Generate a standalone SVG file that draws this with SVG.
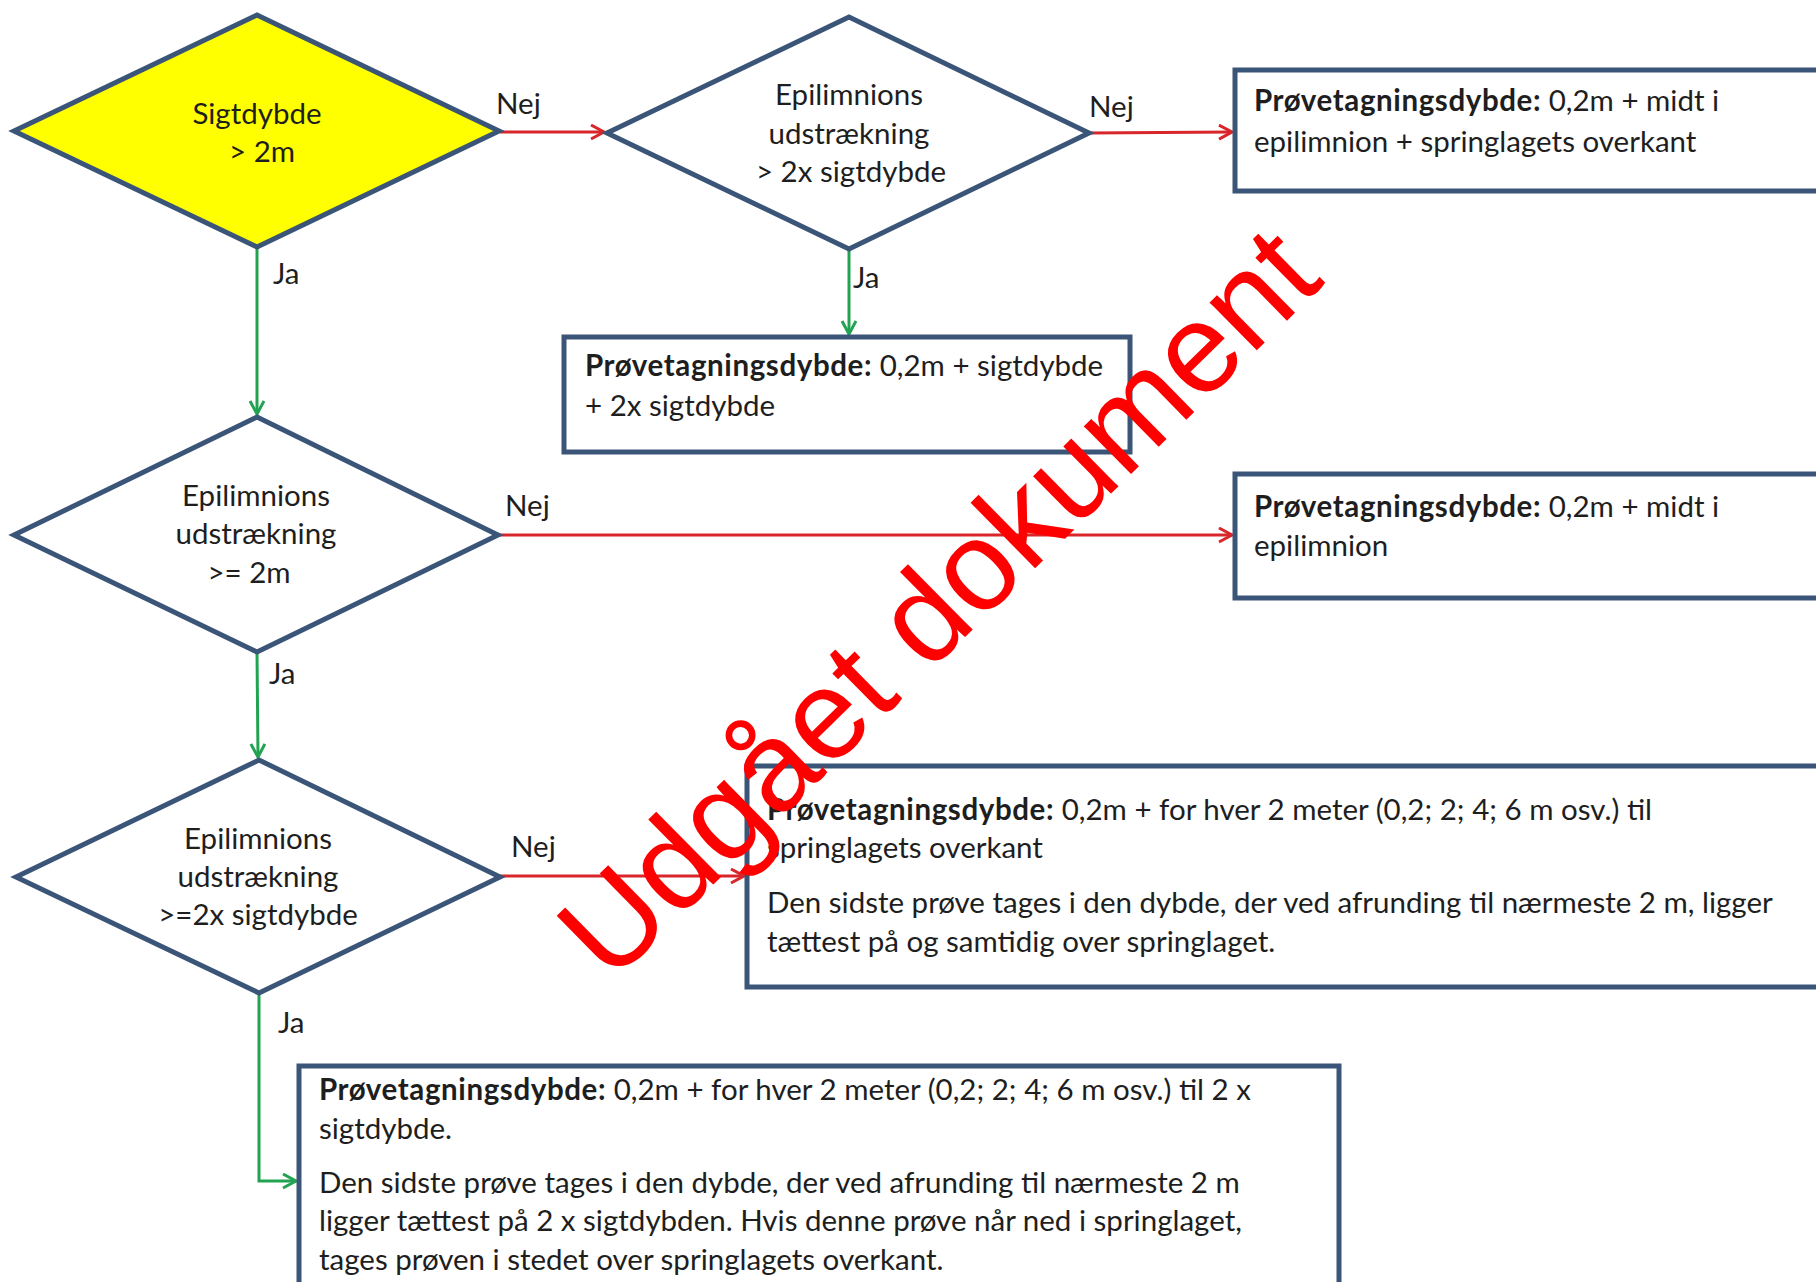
<svg xmlns="http://www.w3.org/2000/svg" width="1816" height="1282" viewBox="0 0 1816 1282">
<style>
.dia{stroke:#3A5578;stroke-width:5;stroke-linejoin:miter;fill:#FFFFFF}
.box{stroke:#3A5578;stroke-width:5;fill:#FFFFFF}
.t{font-family:Lato,"Liberation Sans",sans-serif;font-size:29.5px;fill:#1E1E1E}
.c{text-anchor:middle}
.b{font-weight:bold;letter-spacing:0.6px}
.red{stroke:#D9262A;stroke-width:3;fill:none}
.grn{stroke:#22A352;stroke-width:3;fill:none}
.wm{font-family:"Liberation Sans",Arial,sans-serif;font-size:127px;fill:#FF0000}
</style>
<defs>
<marker id="ar" markerUnits="userSpaceOnUse" markerWidth="20" markerHeight="20" refX="15" refY="8" orient="auto">
<path d="M2,1 L15,8 L2,15" fill="none" stroke="#D9262A" stroke-width="3"/>
</marker>
<marker id="ag" markerUnits="userSpaceOnUse" markerWidth="20" markerHeight="20" refX="15" refY="8" orient="auto">
<path d="M2,1 L15,8 L2,15" fill="none" stroke="#22A352" stroke-width="3"/>
</marker>
</defs>
<rect width="1816" height="1282" fill="#FFFFFF"/>

<g id="connectors">
<path class="red" d="M500,132 L604,132" marker-end="url(#ar)"/>
<path class="red" d="M1089,133 L1232,132" marker-end="url(#ar)"/>
<path class="grn" d="M257,247 L257,414" marker-end="url(#ag)"/>
<path class="grn" d="M849,249 L849,334" marker-end="url(#ag)"/>
<path class="red" d="M498,535 L1232,535" marker-end="url(#ar)"/>
<path class="grn" d="M257,652 L258,757" marker-end="url(#ag)"/>
<path class="red" d="M500,876 L744,876" marker-end="url(#ar)"/>
<path class="grn" d="M259,993 L259,1181 L296,1181" marker-end="url(#ag)"/>
<text class="t" x="496" y="114">Nej</text>
<text class="t" x="1089" y="117">Nej</text>
<text class="t" x="273" y="284">Ja</text>
<text class="t" x="853" y="288">Ja</text>
<text class="t" x="505" y="516">Nej</text>
<text class="t" x="269" y="684">Ja</text>
<text class="t" x="511" y="857">Nej</text>
<text class="t" x="278" y="1033">Ja</text>
</g>

<g id="d1">
<polygon class="dia" style="fill:#FFFF00" points="14,131 257,15 499,131 257,247"/>
<text class="t c" x="257" y="124">Sigtdybde</text>
<text class="t c" x="262" y="162">&gt; 2m</text>
</g>

<g id="d2">
<polygon class="dia" points="607,133 849,17 1089,133 849,249"/>
<text class="t c" x="849" y="105">Epilimnions</text>
<text class="t c" x="849" y="144">udstrækning</text>
<text class="t c" x="851" y="182">&gt; 2x sigtdybde</text>
</g>

<g id="d3">
<polygon class="dia" points="14,535 257,417 498,535 257,652"/>
<text class="t c" x="256" y="506">Epilimnions</text>
<text class="t c" x="256" y="544">udstrækning</text>
<text class="t c" x="249" y="583">&gt;= 2m</text>
</g>

<g id="d4">
<polygon class="dia" points="16,877 259,760 500,877 259,993"/>
<text class="t c" x="258" y="849">Epilimnions</text>
<text class="t c" x="258" y="887">udstrækning</text>
<text class="t c" x="258" y="925">&gt;=2x sigtdybde</text>
</g>

<g id="boxA">
<rect class="box" x="1235" y="70" width="600" height="121"/>
<text class="t" x="1254" y="111"><tspan class="b">Prøvetagningsdybde:</tspan> 0,2m  + midt i</text>
<text class="t" x="1254" y="152">epilimnion  + springlagets overkant</text>
</g>

<g id="boxB">
<rect class="box" x="564" y="337" width="566" height="115"/>
<text class="t" x="585" y="376"><tspan class="b">Prøvetagningsdybde:</tspan> 0,2m + sigtdybde</text>
<text class="t" x="585" y="416">+ 2x sigtdybde</text>
</g>

<g id="boxC">
<rect class="box" x="1235" y="474" width="600" height="124"/>
<text class="t" x="1254" y="517"><tspan class="b">Prøvetagningsdybde:</tspan> 0,2m + midt i</text>
<text class="t" x="1254" y="556">epilimnion</text>
</g>

<g id="boxD">
<rect class="box" x="747" y="766" width="1090" height="221"/>
<text class="t" x="767" y="820"><tspan class="b">Prøvetagningsdybde:</tspan> 0,2m + for hver 2 meter (0,2; 2; 4; 6 m osv.) til</text>
<text class="t" x="767" y="858">springlagets overkant</text>
<text class="t" x="767" y="913">Den sidste prøve tages i den dybde, der ved afrunding til nærmeste 2 m, ligger</text>
<text class="t" x="767" y="952">tættest på og samtidig over springlaget.</text>
</g>

<g id="boxE">
<rect class="box" x="299" y="1066" width="1040" height="240"/>
<text class="t" x="319" y="1100"><tspan class="b">Prøvetagningsdybde:</tspan> 0,2m + for hver 2 meter (0,2; 2; 4; 6 m osv.) til 2 x</text>
<text class="t" x="319" y="1139">sigtdybde.</text>
<text class="t" x="319" y="1193">Den sidste prøve tages i den dybde, der ved afrunding til nærmeste 2 m</text>
<text class="t" x="319" y="1231">ligger tættest på 2 x sigtdybden. Hvis denne prøve når ned i springlaget,</text>
<text class="t" x="319" y="1270">tages prøven i stedet over springlagets overkant.</text>
</g>

<text class="wm" x="611" y="985" transform="rotate(-44.5 611 985)">Udgået dokument</text>
</svg>
